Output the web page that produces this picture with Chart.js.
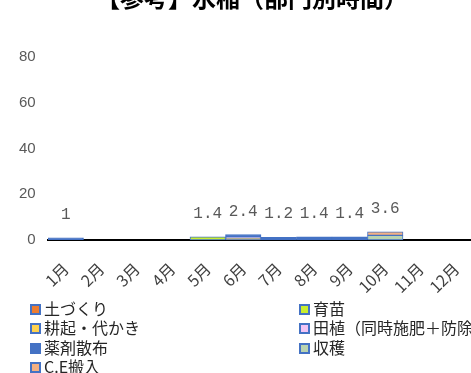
<!DOCTYPE html>
<html>
<head>
<meta charset="utf-8">
<script src="https://cdn.jsdelivr.net/npm/chart.js@4/dist/chart.umd.min.js"></script>
<style>
  html, body { margin: 0; padding: 0; background: #fff; overflow: hidden; width: 471px; height: 373px; }
  #wrap { position: absolute; left: 0; top: 0; width: 510px; height: 373px; }
  #legend { position: absolute; left: 0; top: 0; width: 510px; height: 373px; pointer-events: none;
            font-family: "Noto Sans CJK JP", sans-serif; font-size: 16px; color: #262626; }
  .item { position: absolute; white-space: nowrap; line-height: 18px; height: 18px; }
  .box { display: inline-block; width: 7px; height: 7px; border: 2px solid #4472C4; vertical-align: middle; margin-right: 3px; position: relative; top: -1px; }
</style>
</head>
<body>
<div id="wrap"><canvas id="c" width="510" height="373"></canvas></div>
<div id="legend"></div>
<script>
const months = ['1月','2月','3月','4月','5月','6月','7月','8月','9月','10月','11月','12月'];
const seriesNames = ['土づくり','育苗','耕起・代かき','田植（同時施肥＋防除）','薬剤散布','収穫','C.E搬入'];
const soilPrep   = [0, 0, 0, 0, 0,   0,   0,   0,   0,   0,   0, 0];
const seedling   = [0, 0, 0, 0, 1.4, 0,   0,   0,   0,   0,   0, 0];
const tillage    = [0, 0, 0, 0, 0,   1.0, 0,   0,   0,   0,   0, 0];
const planting   = [0, 0, 0, 0, 0,   0.4, 0,   0,   0,   0,   0, 0];
const spraying   = [1, 0, 0, 0, 0,   1.0, 1.2, 1.4, 1.4, 0,   0, 0];
const harvest    = [0, 0, 0, 0, 0,   0,   0,   0,   0,   2.0, 0, 0];
const ceDelivery = [0, 0, 0, 0, 0,   0,   0,   0,   0,   1.6, 0, 0];
const yTicks = [0, 20, 40, 60, 80];
const chartTitle = '【参考】水稲（部門別時間）';

const fills = ['#ED7D31', '#C9EE2E', '#FFD24F', '#F2C4F4', '#4472C4', '#B9D3B0', '#F4B183'];
const seriesData = [soilPrep, seedling, tillage, planting, spraying, harvest, ceDelivery];

const datasets = seriesNames.map((n, i) => ({
  label: n,
  data: seriesData[i],
  backgroundColor: fills[i],
  borderColor: '#4472C4',
  borderWidth: 1,
  borderSkipped: false,
  barPercentage: 1,
  categoryPercentage: 1
}));

const totalsPlugin = {
  id: 'totals',
  afterDatasetsDraw(chart) {
    const ctx = chart.ctx;
    const xs = chart.scales.x, ys = chart.scales.y;
    ctx.save();
    ctx.font = "16px 'Liberation Mono', monospace";
    ctx.fillStyle = '#595959';
    ctx.textAlign = 'center';
    ctx.textBaseline = 'middle';
    months.forEach((m, i) => {
      let t = 0;
      seriesData.forEach(s => { t += s[i]; });
      t = Math.round(t * 10) / 10;
      if (t > 0) {
        ctx.fillText(String(t), xs.getPixelForValue(i), ys.getPixelForValue(t) - 23);
      }
    });
    ctx.restore();
  }
};

new Chart(document.getElementById('c'), {
  type: 'bar',
  data: { labels: months, datasets },
  options: {
    responsive: false,
    animation: false,
    layout: { padding: { left: 30, right: 36, top: 0, bottom: 73 } },
    plugins: {
      legend: { display: false },
      tooltip: { enabled: false },
      title: {
        display: true,
        text: chartTitle,
        color: '#000',
        font: { family: "'Noto Sans CJK JP'", size: 24, weight: 'bold' },
        padding: { top: -17, bottom: 45.2 }
      }
    },
    scales: {
      x: {
        stacked: true,
        grid: { display: false, drawTicks: false },
        border: { display: true, color: '#000', width: 2 },
        ticks: { color: '#404040', font: { family: "'Noto Sans CJK JP'", size: 16 }, minRotation: 45, maxRotation: 45, padding: 19 },
        afterFit(s) { s.height = 60; }
      },
      y: {
        stacked: true,
        min: 0, max: 80,
        grid: { display: false, drawTicks: false },
        border: { display: false },
        afterBuildTicks(s) { s.ticks = yTicks.map(v => ({ value: v })); },
        ticks: { color: '#595959', font: { family: "'Liberation Sans Narrow', 'Liberation Sans', sans-serif", size: 15 }, mirror: true, crossAlign: 'far', padding: -29 },
        afterFit(s) { s.width = 18; }
      }
    }
  },
  plugins: [totalsPlugin]
});

// legend (two columns)
const leg = document.getElementById('legend');
seriesNames.forEach((n, i) => {
  const col = i % 2, row = Math.floor(i / 2);
  const d = document.createElement('div');
  d.className = 'item';
  d.style.left = (col === 0 ? 30 : 299) + 'px';
  d.style.top = (299 + row * 19.3) + 'px';
  const b = document.createElement('span');
  b.className = 'box';
  b.style.background = fills[i];
  d.appendChild(b);
  d.appendChild(document.createTextNode(n));
  leg.appendChild(d);
});
</script>
</body>
</html>
